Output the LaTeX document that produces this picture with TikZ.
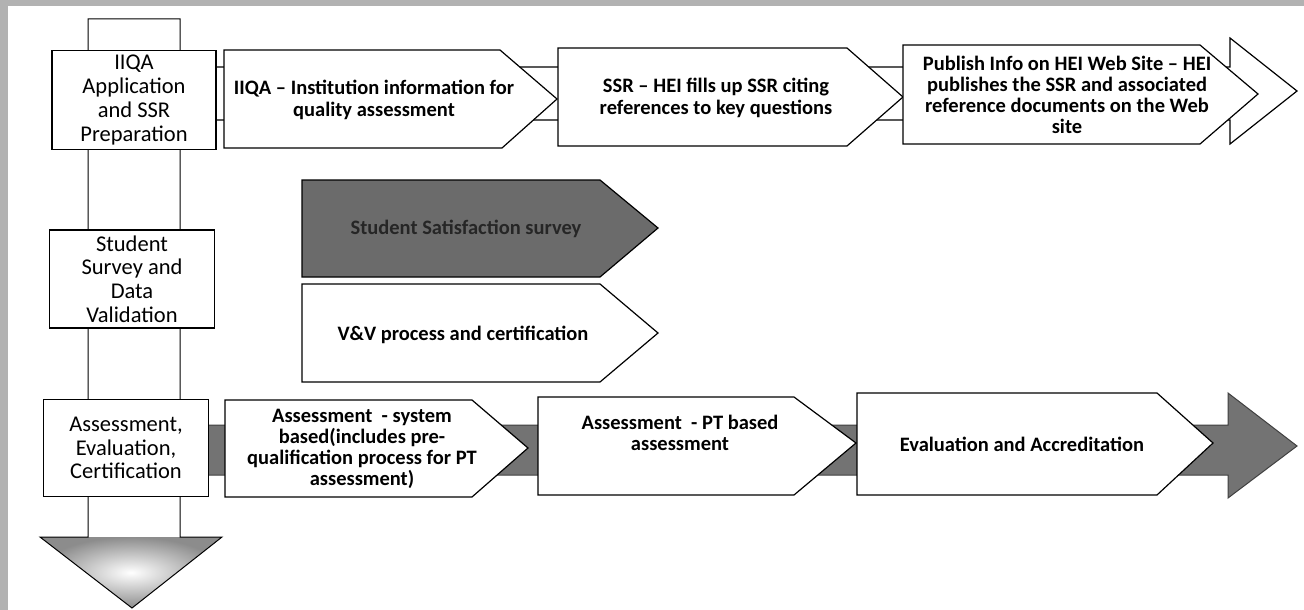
\documentclass[tikz,border=0pt]{standalone}
\usepackage{fontspec}
\setmainfont{Carlito}
\usetikzlibrary{shapes}

\begin{document}
\begin{tikzpicture}[x=1pt,y=-1pt]
        \tikzstyle{every node}+=[inner sep=0pt]
        \tikzstyle{lane}=[draw=black, line width=1.7pt, fill=white, align=center, font=\fontsize{22.5}{23.8}\selectfont]
        \tikzstyle{chev}=[draw=black, line width=1.2pt, fill=white]
        \tikzstyle{chevtext}=[align=center, font=\fontsize{20.5}{21.2}\selectfont\bfseries]
        \useasboundingbox (0,0) rectangle (1304,610);
        \fill[white] (0,0) rectangle (1304,610);
        \fill[black!30] (0,0) rectangle (8,610);
        \fill[black!30] (0,0) rectangle (1304,6);
        \fill[white] (88,19) rectangle (180,537);
        \shade[inner color=white, outer color=black!45] (40,537) -- (222,537) -- (132,608) -- cycle;
        \draw[line width=1pt] (88,537) -- (88,19) -- (180,19) -- (180,537) -- (222,537) -- (132,608) -- (40,537) -- cycle;
        \draw[chev] (200,67) -- (1230,67) -- (1230,38) -- (1297,91) -- (1230,144) -- (1230,120) -- (200,120) -- cycle;
        \draw[draw=black!75, line width=1pt, fill=black!55] (200,425) -- (1228,425) -- (1228,393) -- (1297,446) -- (1228,498) -- (1228,475) -- (200,475) -- cycle;
        \node[lane, minimum width=164pt, minimum height=99pt] (iiqa) at (134,100) {IIQA\\Application\\and SSR\\Preparation};
        \node[lane, minimum width=165pt, minimum height=98pt] (survey) at (132,279) {Student\\Survey and\\Data\\Validation};
        \node[lane, minimum width=165pt, minimum height=97pt] (assess) at (126,448) {Assessment,\\Evaluation,\\Certification};
        \draw[chev] (224,50) -- (500,50) -- (557,99) -- (502,148) -- (224,148) -- cycle;
        \node[chevtext] (iiqainfo) at (374,100) {IIQA – Institution information for\\quality assessment};
        \draw[chev] (558,48) -- (847,48) -- (903,97) -- (847,146) -- (558,146) -- cycle;
        \node[chevtext] (ssr) at (716,98) {SSR – HEI fills up SSR citing\\references to key questions};
        \draw[chev] (903,45) -- (1200,45) -- (1258,94) -- (1200,144) -- (903,144) -- cycle;
        \node[chevtext] (publish) at (1067,95) {Publish Info on HEI Web Site – HEI\\publishes the SSR and associated\\reference documents on the Web\\site};
        \draw[chev, fill=black!58] (302,180) -- (600,180) -- (658,228) -- (600,277) -- (302,277) -- cycle;
        \node[chevtext, text=black!85] (satisf) at (466,229) {Student Satisfaction survey};
        \draw[chev] (302,284) -- (600,284) -- (658,333) -- (600,382) -- (302,382) -- cycle;
        \node[chevtext] (vv) at (463,335) {V\&V process and certification};
        \draw[chev] (225,400) -- (472,400) -- (528,448) -- (472,497) -- (225,497) -- cycle;
        \node[chevtext] (sysbased) at (362,449) {Assessment\ \ - system\\based(includes pre-\\qualification process for PT\\assessment)};
        \draw[chev] (538,397) -- (794,397) -- (856,443) -- (794,495) -- (538,495) -- cycle;
        \node[chevtext] (ptbased) at (680,433) {Assessment\ \ - PT based\\assessment};
        \draw[chev] (857,393) -- (1157,393) -- (1213,443) -- (1157,495) -- (857,495) -- cycle;
        \node[chevtext] (accred) at (1022,444) {Evaluation and Accreditation};
        \end{tikzpicture}
\end{document}
